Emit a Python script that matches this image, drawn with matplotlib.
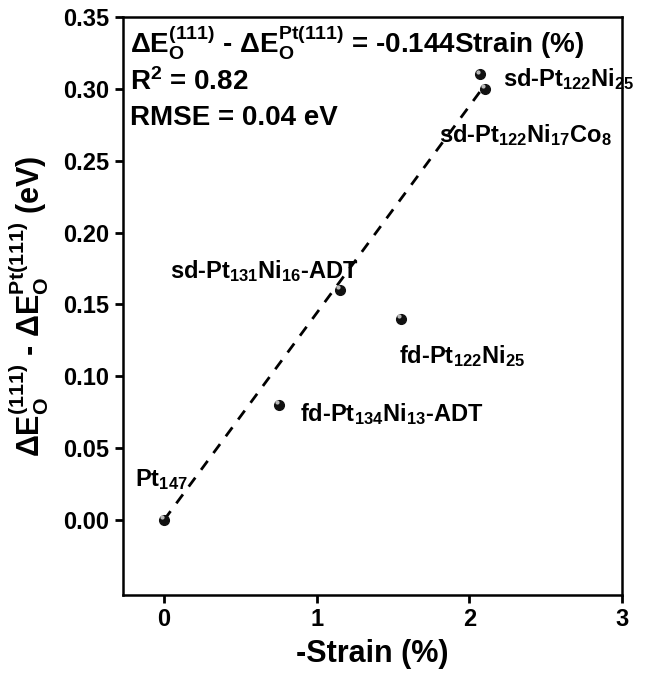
import numpy as np
import matplotlib.pyplot as plt

strain = [0.0, 0.75, 1.15, 1.55, 2.07, 2.10]
dE = [0.0, 0.08, 0.16, 0.14, 0.31, 0.30]
names = [r'Pt$_{147}$', r'fd-Pt$_{134}$Ni$_{13}$-ADT', r'sd-Pt$_{131}$Ni$_{16}$-ADT',
         r'fd-Pt$_{122}$Ni$_{25}$', r'sd-Pt$_{122}$Ni$_{25}$', r'sd-Pt$_{122}$Ni$_{17}$Co$_8$']
label_pos = [(-0.19, 0.028), (0.89, 0.074), (0.04, 0.173), (1.54, 0.114), (2.22, 0.307), (1.80, 0.268)]
slope = 0.144
fit_x = [0.0, 2.08]

plt.rcParams['font.family'] = 'Liberation Sans'
plt.rcParams['font.weight'] = 'bold'
plt.rcParams['mathtext.fontset'] = 'custom'
plt.rcParams['mathtext.rm'] = 'Liberation Sans:bold'
plt.rcParams['mathtext.bf'] = 'Liberation Sans:bold'
plt.rcParams['mathtext.it'] = 'Liberation Sans:bold'
plt.rcParams['mathtext.default'] = 'bf'

fig = plt.figure(figsize=(6.46, 6.76), dpi=100)
ax = fig.add_axes([0.19, 0.12, 0.773, 0.855])

fx = np.array(fit_x)
ax.plot(fx, slope * fx, '--', color='black', lw=2, dashes=(4, 3.5))
ax.plot(strain, dE, 'o', color='#111111', ms=7, zorder=3)
ax.plot(np.array(strain) - 0.012, np.array(dE) + 0.002, 'o', color='#bbbbbb', ms=2, zorder=4)

for name, (lx, ly) in zip(names, label_pos):
    ax.text(lx, ly, name, fontsize=17, fontweight='bold', ha='left', va='center')

ax.text(0.015, 0.955, r'$\Delta$E$_{O}^{(111)}$ - $\Delta$E$_{O}^{Pt(111)}$ = -0.144Strain (%)',
        transform=ax.transAxes, fontsize=20, fontweight='bold', va='center')
ax.text(0.015, 0.887, r'R$^2$ = 0.82', transform=ax.transAxes, fontsize=20, fontweight='bold', va='center')
ax.text(0.015, 0.825, 'RMSE = 0.04 eV', transform=ax.transAxes, fontsize=20, fontweight='bold', va='center')

ax.set_xlim(-0.27, 3.0)
ax.set_ylim(-0.052, 0.35)
ax.set_xticks([0, 1, 2, 3])
ax.set_yticks(np.arange(0, 0.351, 0.05))
ax.set_yticklabels([f'{v:.2f}' for v in np.arange(0, 0.351, 0.05)])
ax.tick_params(direction='out', length=6, width=2, labelsize=17)
for lab in ax.get_xticklabels() + ax.get_yticklabels():
    lab.set_fontweight('bold')
for sp in ax.spines.values():
    sp.set_linewidth(1.8)

ax.set_xlabel('-Strain (%)', fontsize=22, fontweight='bold', labelpad=6)
ax.set_ylabel(r'$\Delta$E$_{O}^{(111)}$ - $\Delta$E$_{O}^{Pt(111)}$ (eV)', fontsize=22, fontweight='bold', labelpad=9)

fig.savefig('out.png', dpi=100)
